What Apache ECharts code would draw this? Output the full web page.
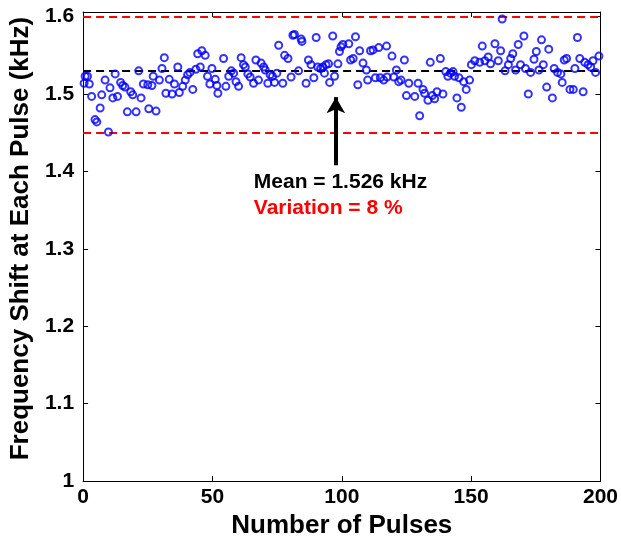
<!DOCTYPE html>
<html><head><meta charset="utf-8">
<script src="https://cdn.jsdelivr.net/npm/echarts@6/dist/echarts.min.js"></script>
<style>html,body{margin:0;padding:0;background:#fff}#c{width:621px;height:544px}</style>
</head><body><div id="c"></div>
<script>
const pulses = [
0.4,0.8,1.7,2.4,3.3,4.6,5.3,6.6,7.2,8.5,9.8,10.4,11.5,12.4,13.3,14.5,15.3,16.2,17.1,18.4,19.2,20.5,21.5,22.4,23.3,
25.0,25.4,26.6,27.1,28.2,29.5,30.5,31.4,32.0,33.3,34.4,35.3,36.6,37.2,38.5,39.5,40.4,41.3,42.4,43.6,44.3,45.3,45.9,47.2,48.1,49.0,49.8,
51.1,51.7,52.1,54.3,55.2,56.3,57.3,58.2,59.1,60.1,61.1,62.0,62.7,63.7,64.6,65.9,66.8,67.8,68.8,69.8,70.4,71.4,72.3,73.2,74.0,74.9,75.6,
77.2,77.9,79.2,80.4,81.1,81.7,83.3,84.3,84.6,86.2,87.1,88.1,89.2,90.1,90.7,91.8,92.7,93.3,93.9,94.9,95.3,96.5,97.2,98.5,99.1,99.7,100.4,
102.7,103.4,104.4,105.3,106.2,106.9,108.2,109.5,110.0,111.1,112.1,113.0,114.3,114.9,116.2,117.3,117.5,119.4,120.1,121.1,122.0,122.9,124.2,125.0,125.9,
128.2,129.5,130.1,131.4,132.0,133.3,134.2,135.0,135.9,136.8,138.1,139.1,140.2,141.0,142.0,143.0,143.6,144.5,145.3,146.2,147.1,148.1,149.4,150.1,151.4,
153.3,154.3,155.3,156.6,157.5,159.2,160.5,161.4,162.0,163.1,164.4,165.3,166.1,167.2,168.2,169.1,170.4,171.0,172.1,173.0,174.3,175.2,176.2,177.2,
177.9,179.2,180.0,181.4,182.1,183.4,184.7,185.2,186.0,186.9,188.2,189.5,190.1,191.1,192.0,193.3,193.9,195.2,196.2,197.1,198.1,199.4
];
const shifts = [
1.514,1.523,1.523,1.513,1.497,1.467,1.464,1.482,1.499,1.518,1.451,1.508,1.495,1.526,1.497,1.515,1.511,1.509,1.477,1.503,1.499,1.477,1.530,1.495,1.513,
1.512,1.481,1.511,1.523,1.478,1.518,1.533,1.547,1.501,1.519,1.500,1.513,1.535,1.502,1.510,1.518,1.525,1.528,1.506,1.532,1.552,1.535,1.556,1.550,1.523,1.513,1.533,
1.519,1.511,1.501,1.546,1.510,1.523,1.530,1.527,1.516,1.510,1.547,1.538,1.535,1.526,1.522,1.514,1.544,1.518,1.540,1.535,1.531,1.514,1.525,1.523,1.515,1.527,1.563,
1.514,1.550,1.546,1.522,1.576,1.577,1.530,1.571,1.568,1.514,1.544,1.538,1.521,1.573,1.535,1.533,1.535,1.527,1.538,1.539,1.515,1.575,1.523,1.539,1.555,1.561,1.564,
1.565,1.544,1.546,1.574,1.512,1.556,1.540,1.531,1.518,1.556,1.557,1.521,1.560,1.521,1.518,1.562,1.522,1.549,1.522,1.531,1.516,1.518,1.544,1.498,1.514,
1.497,1.514,1.472,1.506,1.501,1.492,1.541,1.498,1.494,1.503,1.546,1.500,1.529,1.523,1.527,1.529,1.523,1.495,1.521,1.483,1.516,1.506,1.518,1.538,1.543,
1.541,1.562,1.543,1.548,1.539,1.565,1.543,1.556,1.597,1.530,1.538,1.546,1.552,1.531,1.564,1.538,1.575,1.533,1.500,1.528,1.545,1.555,1.531,1.570,
1.538,1.509,1.558,1.495,1.533,1.528,1.526,1.515,1.544,1.546,1.506,1.506,1.533,1.573,1.546,1.503,1.541,1.538,1.535,1.543,1.528,1.549
];
const meanValue = 1.526;
const upperLimit = 1.597;
const lowerLimit = 1.450;
const arrowPulse = 97.7;
const arrowFrom = 1.408;
const arrowTo = 1.496;
const meanText = 'Mean = 1.526 kHz';
const variationText = 'Variation = 8 %';
const textPulse = 66;
const meanTextY = 1.386;
const variationTextY = 1.352;
const xMin = 0, xMax = 200, xStep = 50;
const yMin = 1, yMax = 1.606, yStep = 0.1;

const FONT = "'Liberation Sans', Arial, sans-serif";
const data = pulses.map((p, i) => [p, shifts[i]]);
const chart = echarts.init(document.getElementById('c'), null, {renderer: 'canvas'});
const yFmt = v => {
  if (Math.abs(v * 10 - Math.round(v * 10)) > 1e-6) return '';
  return Math.abs(v - 1) < 1e-9 ? '1' : v.toFixed(1);
};
const axisCommon = {
  axisLine: {show: true, onZero: false, lineStyle: {color: '#000', width: 1}},
  axisTick: {show: true, inside: true, length: 5, lineStyle: {color: '#000'}},
  splitLine: {show: false}
};
chart.setOption({
  animation: false,
  backgroundColor: '#fff',
  grid: {left: 82, right: 20, top: 12, bottom: 53, containLabel: false},
  xAxis: [
    Object.assign({type: 'value', min: xMin, max: xMax, interval: xStep, position: 'bottom',
      axisLabel: {color: '#000', fontFamily: FONT, fontWeight: 'bold', fontSize: 21, margin: 6},
      name: 'Number of Pulses', nameLocation: 'middle', nameGap: 24,
      nameTextStyle: {color: '#000', fontFamily: FONT, fontWeight: 'bold', fontSize: 26}}, axisCommon),
    Object.assign({type: 'value', min: xMin, max: xMax, interval: xStep, position: 'top',
      axisLabel: {show: false}}, axisCommon)
  ],
  yAxis: [
    Object.assign({type: 'value', min: yMin, max: yMax, interval: yStep, position: 'left',
      axisLabel: {color: '#000', fontFamily: FONT, fontWeight: 'bold', fontSize: 21, margin: 9, formatter: yFmt},
      name: 'Frequency Shift at Each Pulse (kHz)', nameLocation: 'middle', nameGap: 47,
      nameTextStyle: {color: '#000', fontFamily: FONT, fontWeight: 'bold', fontSize: 26, padding: [0, 0, 0, 16]}}, axisCommon),
    Object.assign({type: 'value', min: yMin, max: yMax, interval: yStep, position: 'right',
      axisLabel: {show: false}}, axisCommon)
  ],
  series: [{
    type: 'scatter',
    data: data,
    symbol: 'circle',
    symbolSize: 7,
    itemStyle: {color: 'rgba(0,0,0,0)', borderColor: '#0000ff', borderWidth: 2},
    z: 3,
    markLine: {
      silent: true,
      symbol: ['none', 'none'],
      label: {show: false},
      z: 2,
      data: [
        {yAxis: upperLimit, lineStyle: {color: '#ff0000', width: 2, type: [8, 5]}},
        {yAxis: lowerLimit, lineStyle: {color: '#ff0000', width: 2, type: [8, 5]}},
        {yAxis: meanValue, lineStyle: {color: '#000', width: 2, type: [8, 5]}},
        [{coord: [arrowPulse, arrowFrom], symbol: 'none', lineStyle: {color: '#000', width: 4, type: 'solid'}},
         {coord: [arrowPulse, arrowTo], symbol: 'arrow', symbolSize: [14, 16]}]
      ]
    },
    markPoint: {
      silent: true,
      symbol: 'circle',
      symbolSize: 0,
      data: [
        {coord: [textPulse, meanTextY], label: {show: true, position: 'right', distance: 0, formatter: meanText,
          color: '#000', fontFamily: FONT, fontWeight: 'bold', fontSize: 21}},
        {coord: [textPulse, variationTextY], label: {show: true, position: 'right', distance: 0, formatter: variationText,
          color: '#ff0000', fontFamily: FONT, fontWeight: 'bold', fontSize: 21}}
      ]
    }
  }]
});
</script></body></html>
